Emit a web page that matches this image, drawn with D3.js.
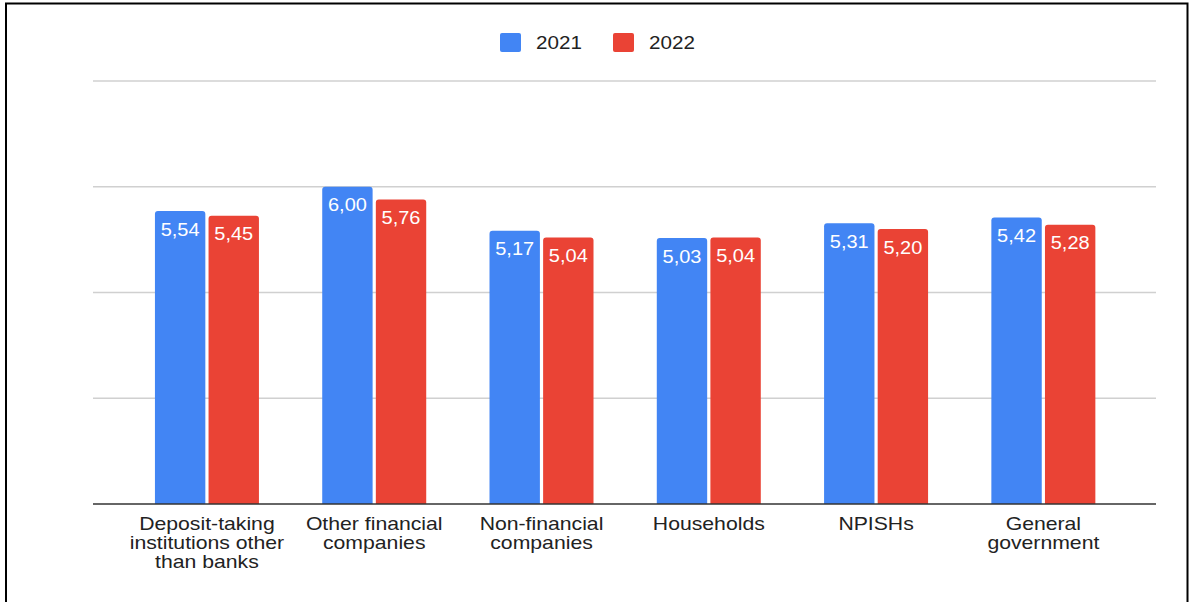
<!DOCTYPE html>
<html><head><meta charset="utf-8">
<script src="https://cdn.jsdelivr.net/npm/d3@7"></script>
<style>body{margin:0;background:#fff}svg{display:block;font-family:"Liberation Sans",Arial,sans-serif}</style>
</head><body>
<svg id="c" width="1190" height="602"></svg>
<script>
const categories = [["Deposit-taking","institutions other","than banks"],["Other financial","companies"],["Non-financial","companies"],["Households"],["NPISHs"],["General","government"]];
const seriesNames = ["2021","2022"];
const values2021 = [5.54, 6.00, 5.17, 5.03, 5.31, 5.42];
const values2022 = [5.45, 5.76, 5.04, 5.04, 5.20, 5.28];
const yTicks = [0, 2, 4, 6, 8];
const colors = ["#4285F4", "#EA4335"];

const svg = d3.select("#c");
// frame
svg.append("rect").attr("x",6).attr("y",3.5).attr("width",1181.5).attr("height",620).attr("fill","none").attr("stroke","#000").attr("stroke-width",2);

const y = d3.scaleLinear().domain([0,8]).range([504,81]);
const x = d3.scaleBand().domain(d3.range(categories.length)).range([123.3,1127]).paddingInner(0).paddingOuter(0);
const xs = d3.scaleBand().domain([0,1]).range([0,104]).paddingInner(0.06);

// gridlines
svg.append("g").selectAll("line").data(yTicks.filter(d=>d>0)).join("line")
  .attr("x1",93).attr("x2",1156).attr("y1",d=>y(d)).attr("y2",d=>y(d))
  .attr("stroke","#d0d0d0").attr("stroke-width",1.3);

function stext(parent, cx, cy, sx, size, fill, anchor){
  return parent.append("g").attr("transform",`translate(${cx},${cy}) scale(${sx},1)`)
    .append("text").attr("x",0).attr("y",0).attr("text-anchor",anchor).attr("font-size",size).attr("fill",fill);
}

const series = [values2021, values2022];
const gx = i => x(i) + x.bandwidth()/2 - 52;
function barPath(x0,w,yt,yb,r){
  return `M${x0},${yb}V${yt+r}Q${x0},${yt} ${x0+r},${yt}H${x0+w-r}Q${x0+w},${yt} ${x0+w},${yt+r}V${yb}Z`;
}
series.forEach((vals,s)=>{
  const g = svg.append("g");
  g.selectAll("path").data(vals).join("path")
    .attr("d",(d,i)=>barPath(gx(i)+xs(s), xs.bandwidth(), y(d), y(0), 3))
    .attr("fill",colors[s]);
  vals.forEach((d,i)=>{
    stext(g, gx(i)+xs(s)+xs.bandwidth()/2, y(d)+24.5, 1.08, 18.5, "#fff", "middle")
      .text(d.toFixed(2).replace(".",","));
  });
});

// baseline
svg.append("line").attr("x1",93).attr("x2",1156).attr("y1",y(0)).attr("y2",y(0)).attr("stroke","#333").attr("stroke-width",1.5);

// category labels
const lab = svg.append("g");
categories.forEach((lines,i)=>{
  lines.forEach((l,j)=>stext(lab, x(i)+x.bandwidth()/2, 529.5+j*19.3, 1.14, 18.6, "#222", "middle").text(l));
});

// legend
const legX = [500, 613];
seriesNames.forEach((n,s)=>{
  svg.append("rect").attr("x",legX[s]).attr("y",33).attr("width",21).attr("height",19).attr("rx",2).attr("fill",colors[s]);
  stext(svg, legX[s]+36, 48.5, 1.11, 18.6, "#222", "start").text(n);
});
</script>
</body></html>
